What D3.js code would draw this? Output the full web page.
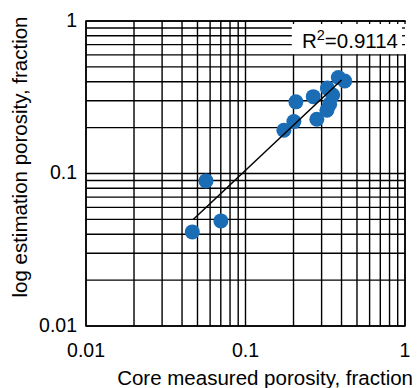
<!DOCTYPE html>
<html>
<head>
<meta charset="utf-8">
<script src="https://cdn.jsdelivr.net/npm/d3@7"></script>
<style>
  body { margin: 0; background: #fff; }
  svg { display: block; font-family: "Liberation Sans", Arial, sans-serif; }
</style>
</head>
<body>
<div id="chart"></div>
<script>
// core measured porosity vs log estimated porosity (fraction)
var coreX = [0.0464, 0.0565, 0.0701, 0.174, 0.201, 0.207, 0.266, 0.280, 0.324, 0.337, 0.352, 0.326, 0.382, 0.419];
var logY  = [0.0414, 0.0894, 0.0489, 0.192, 0.219, 0.295, 0.319, 0.227, 0.260, 0.285, 0.327, 0.363, 0.426, 0.404];
// fitted trend line end points
var fitX = [0.047, 0.40];
var fitY = [0.0499, 0.41];
var tickLabels = ["0.01", "0.1", "1"];
var r2Text = "0.9114";

var W = 419, H = 388;
var margin = {top: 21, right: 14, bottom: 62, left: 86},
    width = W - margin.left - margin.right,
    height = H - margin.top - margin.bottom;

var x = d3.scaleLog().domain([0.01, 1]).range([0, width]);
var y = d3.scaleLog().domain([0.01, 1]).range([height, 0]);

var svg = d3.select("#chart").append("svg")
    .attr("width", W)
    .attr("height", H);

var g = svg.append("g")
    .attr("transform", "translate(" + margin.left + "," + margin.top + ")");

var gridX = x.ticks(), gridY = y.ticks();

// grid lines
g.selectAll(".gx").data(gridX).enter().append("line")
    .attr("x1", function (d) { return x(d); })
    .attr("x2", function (d) { return x(d); })
    .attr("y1", 0).attr("y2", height)
    .attr("stroke", "#000").attr("stroke-width", 1.4);

g.selectAll(".gy").data(gridY).enter().append("line")
    .attr("y1", function (d) { return y(d); })
    .attr("y2", function (d) { return y(d); })
    .attr("x1", 0).attr("x2", width)
    .attr("stroke", "#000").attr("stroke-width", 1.4);

// frame
g.append("rect")
    .attr("width", width).attr("height", height)
    .attr("fill", "none").attr("stroke", "#000").attr("stroke-width", 1.5);

// white box behind the R2 label
var boxLeft = x(0.195), boxBottom = y(0.6);
g.append("rect")
    .attr("x", boxLeft).attr("y", 1)
    .attr("width", width - boxLeft + 2).attr("height", boxBottom - 1.7)
    .attr("fill", "#fff");

// short inside ticks along the box edges
g.selectAll(".tt").data(gridX.filter(function (d) { return x(d) > boxLeft; })).enter().append("line")
    .attr("x1", function (d) { return x(d); })
    .attr("x2", function (d) { return x(d); })
    .attr("y1", 0).attr("y2", 3)
    .attr("stroke", "#000").attr("stroke-width", 1.3);

g.selectAll(".tr").data(gridY.filter(function (d) { return y(d) < boxBottom; })).enter().append("line")
    .attr("y1", function (d) { return y(d); })
    .attr("y2", function (d) { return y(d); })
    .attr("x1", width - 3).attr("x2", width)
    .attr("stroke", "#000").attr("stroke-width", 1.3);

var r2 = g.append("text")
    .attr("x", width - 7).attr("y", 26.5)
    .attr("text-anchor", "end")
    .attr("font-size", "20.5px");
r2.append("tspan").text("R");
r2.append("tspan").attr("font-size", "14.5px").attr("dy", -8).text("2");
r2.append("tspan").attr("dy", 8).text("=" + r2Text);

// points
g.selectAll(".pt").data(coreX).enter().append("circle")
    .attr("cx", function (d) { return x(d); })
    .attr("cy", function (d, i) { return y(logY[i]); })
    .attr("r", 7.5)
    .attr("fill", "#1a6db5");

// trend line
g.append("line")
    .attr("x1", x(fitX[0])).attr("y1", y(fitY[0]))
    .attr("x2", x(fitX[1])).attr("y2", y(fitY[1]))
    .attr("stroke", "#000").attr("stroke-width", 1.5);

// tick labels
var labelVals = tickLabels.map(Number);
g.selectAll(".xl").data(labelVals).enter().append("text")
    .attr("x", function (d) { return x(d); })
    .attr("y", height + 31)
    .attr("text-anchor", "middle")
    .attr("font-size", "19.5px")
    .text(function (d, i) { return tickLabels[i]; });

g.selectAll(".yl").data(labelVals).enter().append("text")
    .attr("x", -9)
    .attr("y", function (d) { return y(d) + 5.5; })
    .attr("text-anchor", "end")
    .attr("font-size", "19.5px")
    .text(function (d, i) { return tickLabels[i]; });

// axis titles
svg.append("text")
    .attr("x", 413).attr("y", 385)
    .attr("text-anchor", "end")
    .attr("font-size", "20.5px")
    .text("Core measured porosity, fraction");

svg.append("text")
    .attr("transform", "translate(27,157) rotate(-90)")
    .attr("text-anchor", "middle")
    .attr("font-size", "20.5px")
    .text("log estimation porosity, fraction");
</script>
</body>
</html>
